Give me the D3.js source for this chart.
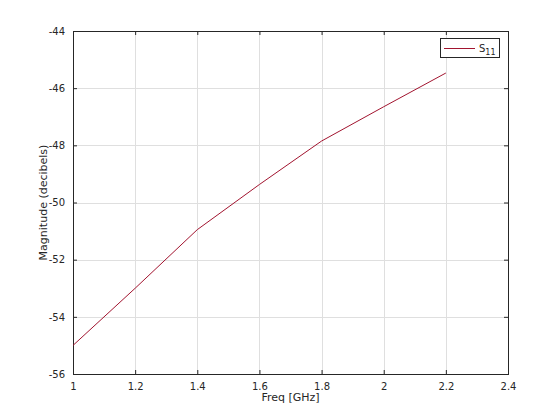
<!DOCTYPE html>
<meta charset="utf-8">
<style>
body { margin: 0; background: #fff; }
text { font-family: "DejaVu Sans", sans-serif; }
</style>
<body></body>
<script src="https://d3js.org/d3.v7.min.js"></script>
<script>
const freq = [1.0, 1.2, 1.4, 1.6, 1.8, 2.0, 2.2]
const s11 = [-55.0, -53.0, -50.95, -49.37, -47.85, -46.65, -45.47]
const xTicks = [1, 1.2, 1.4, 1.6, 1.8, 2, 2.2, 2.4]
const yTicks = [-56, -54, -52, -50, -48, -46, -44]

const width = 560
const height = 420
const margins = { top: 31, right: 52, bottom: 46, left: 73 }
const w = width - margins.left - margins.right
const h = height - margins.top - margins.bottom

const svg = d3.select('body').append('svg')
    .attr('width', width)
    .attr('height', height)

const g = svg.append('g')
    .attr('transform', `translate(${margins.left}, ${margins.top})`)

const x = d3.scaleLinear().domain([1, 2.4]).range([0, w])
const y = d3.scaleLinear().domain([-56, -44]).range([h, 0])

// grid
g.append('g').selectAll('line')
    .data(xTicks.slice(1, -1))
    .enter().append('line')
        .attr('x1', d => Math.round(x(d)) + 0.5).attr('x2', d => Math.round(x(d)) + 0.5)
        .attr('y1', 0).attr('y2', h)
        .attr('stroke', '#dfdfdf')
g.append('g').selectAll('line')
    .data(yTicks.slice(1, -1))
    .enter().append('line')
        .attr('y1', d => Math.round(y(d)) + 0.5).attr('y2', d => Math.round(y(d)) + 0.5)
        .attr('x1', 0).attr('x2', w)
        .attr('stroke', '#dfdfdf')

// axes
function styleAxis (sel) {
    sel.select('.domain').remove()
    sel.selectAll('line').attr('stroke', '#262626')
    sel.selectAll('text').attr('fill', '#262626').style('font-size', '10px')
}

const fmt = d => String(d)

g.append('g')
    .attr('transform', `translate(0, ${h})`)
    .call(d3.axisBottom(x).tickValues(xTicks).tickSize(-4).tickPadding(9).tickFormat(fmt))
    .call(styleAxis)
g.append('g')
    .call(d3.axisTop(x).tickValues(xTicks).tickSize(-4).tickFormat(''))
    .call(styleAxis)
g.append('g')
    .call(d3.axisLeft(y).tickValues(yTicks).tickSize(-4).tickPadding(8).tickFormat(fmt))
    .call(styleAxis)
g.append('g')
    .attr('transform', `translate(${w}, 0)`)
    .call(d3.axisRight(y).tickValues(yTicks).tickSize(-4).tickFormat(''))
    .call(styleAxis)

g.append('rect')
    .attr('x', 0.5).attr('y', 0.5)
    .attr('width', w).attr('height', h)
    .attr('fill', 'none')
    .attr('stroke', '#262626')

// line
const line = d3.line().x((d, i) => x(freq[i])).y(d => y(d))
g.append('path')
    .datum(s11)
    .attr('d', line)
    .attr('fill', 'none')
    .attr('stroke', '#A2142F')
    .attr('stroke-width', 1)

// labels
svg.append('text')
    .attr('x', margins.left + w / 2)
    .attr('y', 401)
    .attr('text-anchor', 'middle')
    .attr('fill', '#262626')
    .style('font-size', '11px')
    .text('Freq [GHz]')

svg.append('text')
    .attr('transform', `translate(47, ${margins.top + h / 2}) rotate(-90)`)
    .attr('text-anchor', 'middle')
    .attr('fill', '#262626')
    .style('font-size', '11px')
    .text('Magnitude (decibels)')

// legend
const leg = svg.append('g').attr('transform', 'translate(440, 38)')
leg.append('rect')
    .attr('x', 0.5).attr('y', 0.5)
    .attr('width', 59).attr('height', 19)
    .attr('fill', '#fff')
    .attr('stroke', '#262626')
leg.append('line')
    .attr('x1', 4).attr('x2', 35)
    .attr('y1', 10.5).attr('y2', 10.5)
    .attr('stroke', '#A2142F')
const lt = leg.append('text')
    .attr('x', 39).attr('y', 14)
    .attr('fill', '#262626')
    .style('font-size', '10px')
lt.append('tspan').text('S')
lt.append('tspan').attr('dy', 3).style('font-size', '8px').text('11')
</script>
